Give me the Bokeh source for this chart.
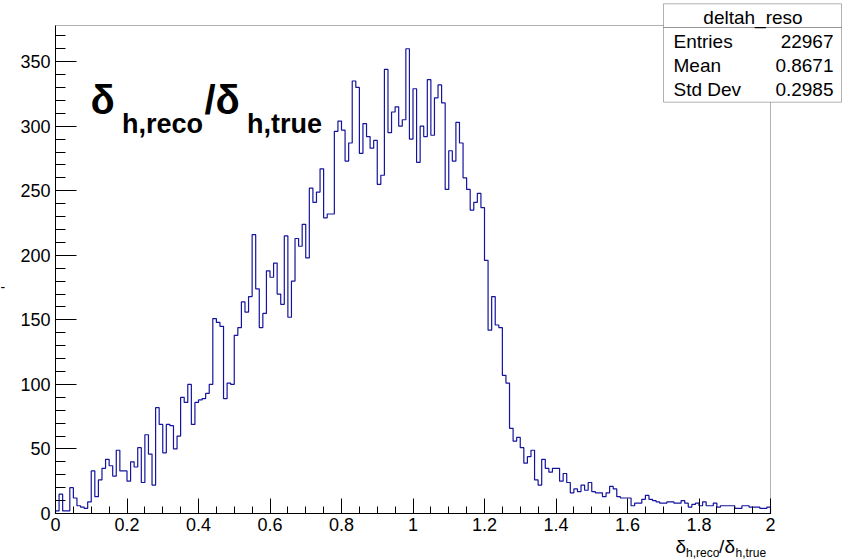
from bokeh.plotting import figure
from bokeh.models import FixedTicker, Label, PolyAnnotation, BoxAnnotation, Range1d
from bokeh.embed import file_html
from bokeh.resources import INLINE

# ---------------- data ----------------
x_lo, x_hi, n_bins = 0.0, 2.0, 200
counts_a = [2, 15, 2, 2, 20, 12, 6, 5, 4, 9, 33, 13, 26, 35, 42, 37, 29, 49, 33, 33,
            25, 40, 36, 51, 24, 61, 46, 22, 82, 69, 47, 69, 68, 50, 60, 90, 86, 100, 69, 86,
            88, 89, 93, 100, 151, 148, 145, 89, 101, 100]
counts_b = [138, 144, 164, 156, 168, 216, 174, 144, 155, 188, 183, 194, 170, 162, 215, 152, 180, 213, 207, 224,
            198, 252, 241, 249, 267, 229, 232, 232, 296, 304, 297, 273, 287, 335, 330, 279, 302, 292, 283, 289,
            255, 262, 344, 295, 311, 315, 300, 305, 360, 290]
counts_c = [329, 272, 300, 292, 336, 293, 322, 332, 318, 251, 281, 273, 303, 287, 260, 251, 235, 241, 248, 237,
            196, 142, 168, 146, 144, 107, 101, 66, 56, 59, 51, 39, 44, 49, 26, 22, 42, 35, 32, 35,
            35, 25, 31, 24, 16, 19, 17, 22, 18, 24]
counts_d = [17, 16, 16, 13, 16, 21, 19, 13, 12, 12, 12, 6, 8, 8, 11, 14, 11, 10, 9, 8,
            8, 9, 9, 8, 8, 10, 8, 5, 7, 8, 6, 9, 6, 6, 8, 5, 6, 6, 6, 6,
            4, 4, 6, 6, 5, 5, 5, 4, 4, 5]
counts = counts_a + counts_b + counts_c + counts_d

x_ticks = [0, 0.2, 0.4, 0.6, 0.8, 1.0, 1.2, 1.4, 1.6, 1.8, 2.0]
x_tick_labels = ["0", "0.2", "0.4", "0.6", "0.8", "1", "1.2", "1.4", "1.6", "1.8", "2"]
x_minor = [i * 0.05 for i in range(41)]
y_ticks = [0, 50, 100, 150, 200, 250, 300, 350]
y_minor = list(range(0, 380, 10))
y_max = 378

stat_title = "deltah_reso"
stat_names = ["Entries", "Mean", "Std Dev"]
stat_values = ["22967", "0.8671", "0.2985"]

# ---------------- geometry of the ROOT frame inside the canvas ----------------
W, H = 849, 560
PX0, PX1, PY0, PY1 = 55, 770, 25, 513   # frame edges in canvas pixels
BASE_K = 0.3  # baseline correction (fraction of font size)


def px2x(px):
    return x_lo + (px - PX0) / (PX1 - PX0) * (x_hi - x_lo)


def py2y(py):
    return (PY1 - py) / (PY1 - PY0) * y_max


def base(py, fs):
    return py2y(py - BASE_K * fs)


p = figure(width=W, height=H, output_backend="svg", toolbar_location=None,
           x_range=Range1d(px2x(0), px2x(W)), y_range=Range1d(py2y(H), py2y(0)),
           min_border=0, min_border_left=0, min_border_right=0,
           min_border_top=0, min_border_bottom=0)
p.title.visible = False
p.grid.visible = False
p.outline_line_color = None
p.background_fill_color = "white"
p.border_fill_color = "white"

FONT = "Liberation Sans"

# axes (fixed at x=0 / y=0, as in ROOT)
for ax in (p.xaxis[0], p.yaxis[0]):
    ax.fixed_location = 0
    ax.axis_line_color = "black"
    ax.major_tick_line_color = "black"
    ax.minor_tick_line_color = "black"
    ax.major_tick_out = 0
    ax.minor_tick_out = 0
    ax.major_label_text_font = FONT
    ax.major_label_text_font_size = "18px"
    ax.major_label_text_color = "black"

p.xaxis.bounds = (x_lo, x_hi)
p.xaxis.ticker = FixedTicker(ticks=x_ticks, minor_ticks=x_minor)
p.xaxis.major_label_overrides = dict(zip(x_ticks, x_tick_labels))
p.xaxis.major_tick_in = 15
p.xaxis.minor_tick_in = 7
p.xaxis.major_label_standoff = 4

p.yaxis.bounds = (0, y_max)
p.yaxis.ticker = FixedTicker(ticks=y_ticks, minor_ticks=y_minor)
p.yaxis.major_tick_in = 21
p.yaxis.minor_tick_in = 10
p.yaxis.major_label_standoff = 5

# frame box
p.add_layout(BoxAnnotation(left=x_lo, right=x_hi, bottom=0, top=y_max,
                           fill_alpha=0, line_color="black", line_width=1))

# histogram
width = (x_hi - x_lo) / n_bins
edges = [x_lo + i * width for i in range(n_bins + 1)]
xs, ys = [edges[0]], [0]
for i, c in enumerate(counts):
    xs += [edges[i], edges[i + 1]]
    ys += [c, c]
xs.append(edges[-1]); ys.append(0)
p.line(xs, ys, line_color="#14149f", line_width=1.2)


def add_text(txt, px, py, fs, bold=False, align="left"):
    p.add_layout(Label(x=px2x(px), y=base(py, fs), text=txt, text_font=FONT,
                       text_font_size=f"{fs}px",
                       text_font_style="bold" if bold else "normal",
                       text_baseline="alphabetic", text_align=align, text_color="black"))


# big title (latex-like)
add_text("δ", 90, 111.5, 40, bold=True)
add_text("h,reco", 121.5, 132, 27, bold=True)
add_text("/δ", 204, 111.5, 40, bold=True)
add_text("h,true", 246.5, 132, 27, bold=True)

# x-axis title
add_text("δ", 675, 551.5, 19)
add_text("h,reco", 685.5, 556.5, 12)
add_text("/", 718.5, 551.5, 19)
add_text("δ", 724, 551.5, 19)
add_text("h,true", 735, 556.5, 12)

# clipped remnant of the y-axis title at the left edge
add_text("-", 0, 291, 14)

# stats box
bx0, bx1, by0, bsep, by1 = 663, 841, 3.3, 27, 101.7
p.add_layout(PolyAnnotation(xs=[px2x(bx0), px2x(bx1), px2x(bx1), px2x(bx0)],
                            ys=[py2y(by0), py2y(by0), py2y(bsep), py2y(bsep)],
                            fill_color="white", fill_alpha=1, line_color="black", line_width=1))
p.add_layout(PolyAnnotation(xs=[px2x(bx0), px2x(bx1), px2x(bx1), px2x(bx0)],
                            ys=[py2y(bsep), py2y(bsep), py2y(by1), py2y(by1)],
                            fill_color="white", fill_alpha=1, line_color="black", line_width=1))
add_text(stat_title, 752.5, 22.5, 19, align="center")
for k, (nm, vl) in enumerate(zip(stat_names, stat_values)):
    yb = 46.5 + k * 24.3
    add_text(nm, 673, yb, 19)
    add_text(vl, 833, yb, 19, align="right")

open("out.html", "w").write(file_html(p, INLINE))
